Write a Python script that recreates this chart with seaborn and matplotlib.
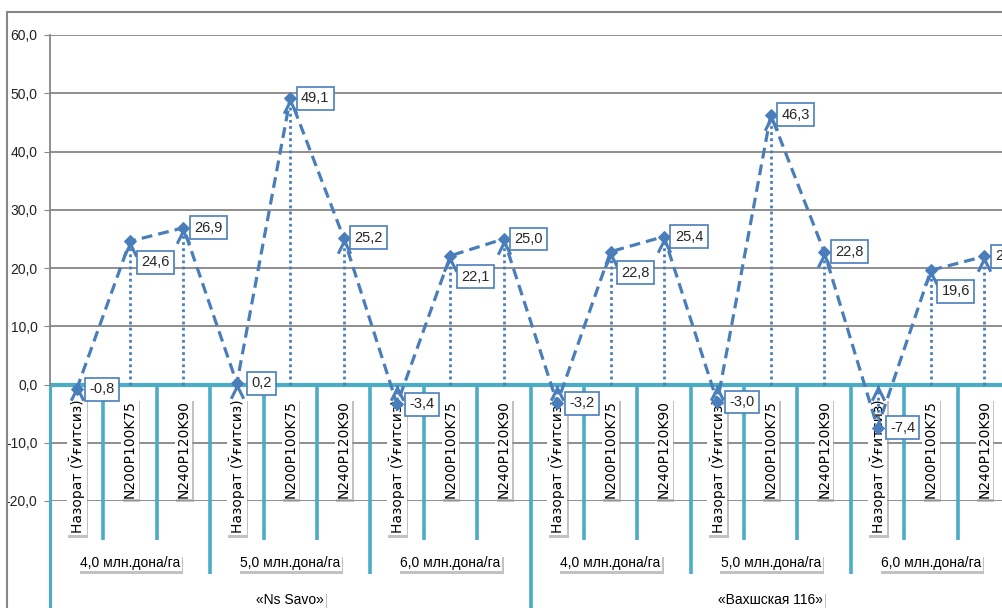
import numpy as np
import pandas as pd
import matplotlib
matplotlib.use('Agg')
import matplotlib.pyplot as plt
import matplotlib.transforms as mtransforms
import matplotlib.patheffects as pe
from matplotlib.lines import Line2D
import seaborn as sns

# Data
treatments = ['Назорат (Ўғитсиз)', 'N200P100K75', 'N240P120K90']
densities = ['4,0 млн.дона/га', '5,0 млн.дона/га', '6,0 млн.дона/га']
varieties = ['«Ns Savo»', '«Вахшская 116»']
values = [-0.8, 24.6, 26.9, 0.2, 49.1, 25.2, -3.4, 22.1, 25.0,
          -3.2, 22.8, 25.4, -3.0, 46.3, 22.8, -7.4, 19.6, 22.0]
yticks = [60, 50, 40, 30, 20, 10, 0, -10, -20]

# points whose data label sits below-right instead of right
below_labels = [1, 7, 10, 16]

blue = '#4a7ebb'
teal = '#4bacc6'
grey = '#868686'
narrow = ['Liberation Sans', 'DejaVu Sans']

df = pd.DataFrame({'pos': np.arange(len(values)), 'value': values,
                   'treatment': treatments * (len(densities) * len(varieties))})

sns.set_style('white')
fig = plt.figure(figsize=(10.03, 6.08), dpi=100)
ax = fig.add_axes([50 / 1003, 107 / 608, 961 / 1003, 466 / 608])

ax.set_xlim(-0.5, len(values) - 0.5)
ax.set_ylim(-20, 60)
ax.set_yticks(yticks)
ax.set_yticklabels([f'{t:.1f}'.replace('.', ',') for t in yticks],
                   family=narrow, fontsize=10, color='#222222')
ax.tick_params(axis='y', length=4, color=grey, pad=5, left=True)
ax.set_xticks([])
ax.yaxis.grid(True, color=grey, lw=1.3, zorder=0)
ax.set_axisbelow(True)
for side in ['top', 'right', 'bottom']:
    ax.spines[side].set_visible(False)
ax.spines['left'].set_color(grey)
ax.spines['left'].set_linewidth(1.3)
ax.spines['left'].set_bounds(0, 60)

# horizontal (category) axis at zero, with separators
ax.axhline(0, color=teal, lw=3, zorder=2)
n = len(values)
for k in range(0, n):
    xb = k - 0.5
    if k % 9 == 0:
        lo = -42
    elif k % 3 == 0:
        lo = -32.6
    else:
        lo = -26.7
    ax.vlines(xb, lo, 0, color=teal, lw=2.6 if k else 2.2, zorder=2, clip_on=False)

shadow = [pe.SimplePatchShadow(offset=(1, -2), shadow_rgbFace='#9a9a9a', alpha=0.6),
          pe.Normal()]


def boxed(x, y, s, z=3, **kw):
    t = ax.text(x, y, s, color='black', zorder=z, clip_on=False,
                bbox=dict(fc='white', ec='none', pad=1.2), **kw)
    t.get_bbox_patch().set_path_effects(shadow)


# category labels
for i, row in df.iterrows():
    boxed(row['pos'], -2.6, row['treatment'], rotation=90, ha='center', va='top',
          fontsize=10, family='DejaVu Sans')

for g, d in enumerate(densities * len(varieties)):
    boxed(3 * g + 1, -30.6, d, ha='center', va='center', fontsize=10, family=narrow)

for v, name in enumerate(varieties):
    boxed(9 * v + 4, -37.0, name, ha='center', va='center', fontsize=10, family=narrow)

# drop lines
ax.vlines(df['pos'], 0, df['value'], color=blue, lw=2.0,
          linestyles=(0, (1, 1.2)), zorder=3)

# main dashed line
sns.lineplot(data=df, x='pos', y='value', ax=ax, color=blue, lw=2.3,
             linestyle=(0, (3.4, 1.9)), marker='D', markersize=6,
             markeredgecolor=blue, markerfacecolor=blue, zorder=5)

# arrow heads at top of drop lines
chev = mtransforms.offset_copy(ax.transData, fig=fig, x=0, y=-9, units='dots')
ax.plot(df['pos'], np.maximum(df['value'], 0), ls='none',
        marker=[(-1, -1), (0, 1), (1, -1)], markersize=9, mew=2.2,
        markeredgecolor=blue, markerfacecolor='none', transform=chev, zorder=5)

# data labels
for i, v in enumerate(values):
    dy = -21 if i in below_labels else 0
    ax.annotate(f'{v:.1f}'.replace('.', ','), (i, v), xytext=(25, dy),
                textcoords='offset pixels', ha='center', va='center',
                fontsize=10.5, family=narrow, zorder=7, annotation_clip=False,
                bbox=dict(fc='white', ec=blue, lw=1.2, boxstyle='square,pad=0.3'))

ax.set_xlabel('')
ax.set_ylabel('')
if ax.get_legend():
    ax.get_legend().remove()

# outer chart frame
fig.add_artist(Line2D([7 / 1003, 1], [1 - 12 / 608] * 2, transform=fig.transFigure,
                      color=grey, lw=1.5))
fig.add_artist(Line2D([7 / 1003] * 2, [0, 1 - 12 / 608], transform=fig.transFigure,
                      color=grey, lw=1.5))

fig.savefig('out.png', dpi=100)
